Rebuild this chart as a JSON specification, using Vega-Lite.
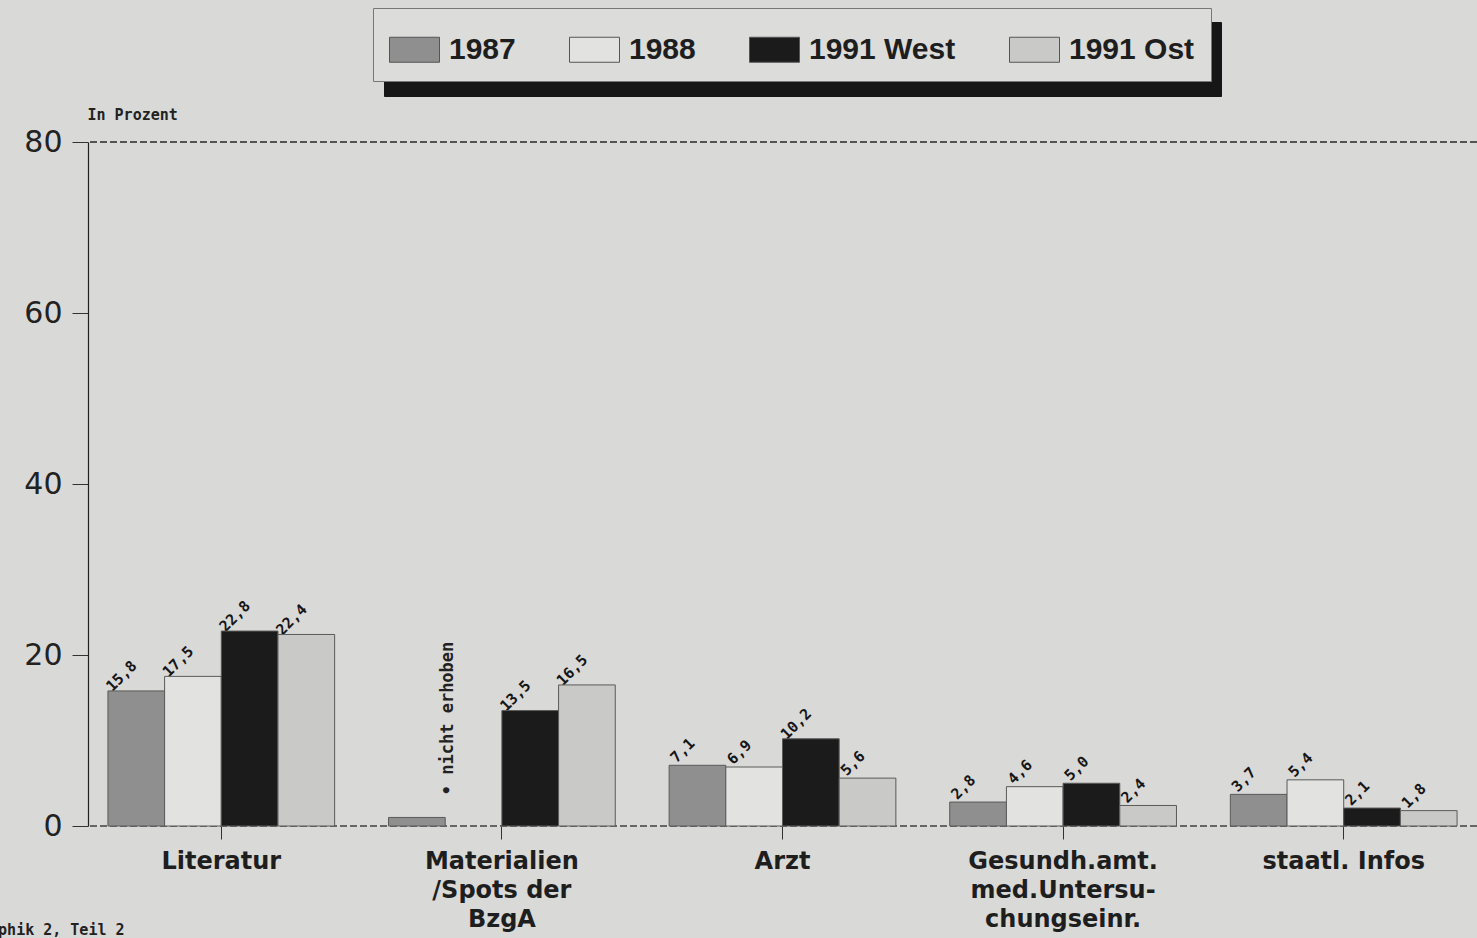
{
  "$schema": "https://vega.github.io/schema/vega-lite/v6.json",
  "width": 1389,
  "height": 684,
  "autosize": {"type": "none"},
  "padding": {"left": 88, "top": 142, "right": 0, "bottom": 112},
  "background": "#d9d9d7",
  "config": {
    "view": {"stroke": null},
    "font": "DejaVu Sans",
    "locale": {"number": {"decimal": ",", "thousands": ".", "grouping": [3], "currency": ["", " €"]}}
  },
  "title": {
    "text": "Graphik 2, Teil 2",
    "orient": "bottom",
    "anchor": "start",
    "frame": "group",
    "offset": -8,
    "dx": -117,
    "font": "DejaVu Sans Mono",
    "fontSize": 15,
    "fontWeight": "bold",
    "color": "#222"
  },
  "data": {
    "values": [
      {"category": "Literatur", "year": "1987", "value": 15.8},
      {"category": "Literatur", "year": "1988", "value": 17.5},
      {"category": "Literatur", "year": "1991 West", "value": 22.8},
      {"category": "Literatur", "year": "1991 Ost", "value": 22.4},
      {"category": "Materialien\n/Spots der\nBzgA", "year": "1987", "value": 1.0, "nolabel": true},
      {"category": "Materialien\n/Spots der\nBzgA", "year": "1991 West", "value": 13.5},
      {"category": "Materialien\n/Spots der\nBzgA", "year": "1991 Ost", "value": 16.5},
      {"category": "Arzt", "year": "1987", "value": 7.1},
      {"category": "Arzt", "year": "1988", "value": 6.9},
      {"category": "Arzt", "year": "1991 West", "value": 10.2},
      {"category": "Arzt", "year": "1991 Ost", "value": 5.6},
      {"category": "Gesundh.amt.\nmed.Untersu-\nchungseinr.", "year": "1987", "value": 2.8},
      {"category": "Gesundh.amt.\nmed.Untersu-\nchungseinr.", "year": "1988", "value": 4.6},
      {"category": "Gesundh.amt.\nmed.Untersu-\nchungseinr.", "year": "1991 West", "value": 5.0},
      {"category": "Gesundh.amt.\nmed.Untersu-\nchungseinr.", "year": "1991 Ost", "value": 2.4},
      {"category": "staatl. Infos", "year": "1987", "value": 3.7},
      {"category": "staatl. Infos", "year": "1988", "value": 5.4},
      {"category": "staatl. Infos", "year": "1991 West", "value": 2.1},
      {"category": "staatl. Infos", "year": "1991 Ost", "value": 1.8}
    ]
  },
  "layer": [
    {
      "mark": {"type": "rule", "color": "#555", "strokeWidth": 1, "strokeDash": [7, 3]},
      "encoding": {"y": {"datum": 80, "type": "quantitative"}}
    },
    {
      "mark": {"type": "rule", "color": "#666", "strokeWidth": 1, "strokeDash": [7, 3]},
      "encoding": {"y": {"datum": 0, "type": "quantitative"}}
    },
    {
      "transform": [{"filter": "!datum.nolabel"}],
      "mark": {
        "type": "text",
        "angle": 315,
        "align": "center",
        "baseline": "middle",
        "dy": -21,
        "font": "DejaVu Sans Mono",
        "fontSize": 15,
        "fontWeight": "bold"
      },
      "encoding": {
        "x": {
          "field": "category",
          "type": "nominal",
          "sort": ["Literatur", "Materialien\n/Spots der\nBzgA", "Arzt", "Gesundh.amt.\nmed.Untersu-\nchungseinr.", "staatl. Infos"],
          "scale": {"paddingInner": 0.192, "paddingOuter": 0.071},
          "axis": {
            "title": null,
            "domain": false,
            "ticks": true,
            "tickSize": 13,
            "tickColor": "#333",
            "labelAngle": 0,
            "labelFont": "DejaVu Sans",
            "labelFontSize": 24,
            "labelFontWeight": "bold",
            "labelColor": "#1e1e1e",
            "labelPadding": 10,
            "labelLimit": 0,
            "labelLineHeight": 29,
            "labelBaseline": "top",
            "labelExpr": "split(datum.label, '\\n')"
          }
        },
        "xOffset": {
          "field": "year",
          "type": "nominal",
          "sort": ["1987", "1988", "1991 West", "1991 Ost"],
          "scale": {"paddingInner": 0, "paddingOuter": 0}
        },
        "y": {
          "field": "value",
          "type": "quantitative",
          "scale": {"domain": [0, 80], "nice": false, "zero": true},
          "axis": {
            "values": [0, 20, 40, 60, 80],
            "grid": false,
            "domainColor": "#222",
            "domainWidth": 1.2,
            "tickColor": "#333",
            "tickSize": 16,
            "labelFont": "DejaVu Sans",
            "labelFontSize": 30,
            "labelColor": "#222",
            "labelPadding": 10,
            "title": "In Prozent",
            "titleAngle": 0,
            "titleAlign": "left",
            "titleBaseline": "middle",
            "titleX": -1,
            "titleY": -28,
            "titleFont": "DejaVu Sans Mono",
            "titleFontSize": 15,
            "titleFontWeight": "bold",
            "titleColor": "#222"
          }
        },
        "text": {"field": "value", "type": "quantitative", "format": ".1f"},
        "color": {
          "field": "year",
          "type": "nominal",
          "sort": ["1987", "1988", "1991 West", "1991 Ost"],
          "scale": {"range": ["#161616", "#161616", "#161616", "#161616"]},
          "legend": {
            "title": null,
            "orient": "none",
            "legendX": 296,
            "legendY": -120,
            "direction": "horizontal",
            "columns": 4,
            "symbolType": "M-1,-0.5H1V0.5H-1Z",
            "symbolSize": 2500,
            "symbolStrokeColor": "#161616",
            "symbolOpacity": 1,
            "labelFont": "Liberation Sans",
            "labelFontSize": 30,
            "labelFontWeight": "bold",
            "labelColor": "#161616",
            "labelExpr": "' '",
            "labelOffset": 9,
            "columnPadding": 185,
            "padding": 16,
            "strokeColor": "#161616",
            "fillColor": "#161616"
          }
        }
      }
    },
    {
      "mark": {"type": "bar", "stroke": "#5a5a5a", "strokeWidth": 1, "fillOpacity": 1},
      "encoding": {
        "x": {
          "field": "category",
          "type": "nominal",
          "sort": ["Literatur", "Materialien\n/Spots der\nBzgA", "Arzt", "Gesundh.amt.\nmed.Untersu-\nchungseinr.", "staatl. Infos"],
          "scale": {"paddingInner": 0.192, "paddingOuter": 0.071},
          "axis": {
            "title": null,
            "domain": false,
            "ticks": true,
            "tickSize": 13,
            "tickColor": "#333",
            "labelAngle": 0,
            "labelFont": "DejaVu Sans",
            "labelFontSize": 24,
            "labelFontWeight": "bold",
            "labelColor": "#1e1e1e",
            "labelPadding": 10,
            "labelLimit": 0,
            "labelLineHeight": 29,
            "labelBaseline": "top",
            "labelExpr": "split(datum.label, '\\n')"
          }
        },
        "xOffset": {
          "field": "year",
          "type": "nominal",
          "sort": ["1987", "1988", "1991 West", "1991 Ost"],
          "scale": {"paddingInner": 0, "paddingOuter": 0}
        },
        "y": {
          "field": "value",
          "type": "quantitative",
          "scale": {"domain": [0, 80], "nice": false, "zero": true},
          "axis": {
            "values": [0, 20, 40, 60, 80],
            "grid": false,
            "domainColor": "#222",
            "domainWidth": 1.2,
            "tickColor": "#333",
            "tickSize": 16,
            "labelFont": "DejaVu Sans",
            "labelFontSize": 30,
            "labelColor": "#222",
            "labelPadding": 10,
            "title": "In Prozent",
            "titleAngle": 0,
            "titleAlign": "left",
            "titleBaseline": "middle",
            "titleX": -1,
            "titleY": -28,
            "titleFont": "DejaVu Sans Mono",
            "titleFontSize": 15,
            "titleFontWeight": "bold",
            "titleColor": "#222"
          }
        },
        "fill": {
          "field": "year",
          "type": "nominal",
          "scale": {
            "domain": ["1987", "1988", "1991 West", "1991 Ost"],
            "range": ["#8f8f8f", "#e2e2e0", "#1b1b1b", "#c9c9c7"]
          },
          "legend": {
            "title": null,
            "orient": "none",
            "legendX": 285,
            "legendY": -134,
            "direction": "horizontal",
            "columns": 4,
            "symbolType": "M-1,-0.5H1V0.5H-1Z",
            "symbolSize": 2500,
            "symbolStrokeColor": "#555",
            "symbolStrokeWidth": 1,
            "symbolOpacity": 1,
            "labelFont": "Liberation Sans",
            "labelFontSize": 30,
            "labelFontWeight": "bold",
            "labelColor": "#1e1e1e",
            "labelOffset": 9,
            "columnPadding": 51,
            "padding": 16,
            "strokeColor": "#777",
            "fillColor": "#dcdcda"
          }
        }
      }
    },
    {
      "data": {"values": [{"category": "Materialien\n/Spots der\nBzgA", "year": "1988", "note": "• nicht erhoben"}]},
      "mark": {
        "type": "text",
        "angle": 270,
        "align": "left",
        "baseline": "middle",
        "dy": -26,
        "font": "DejaVu Sans Mono",
        "fontSize": 17,
        "fontWeight": "bold",
        "color": "#222"
      },
      "encoding": {
        "x": {"field": "category", "type": "nominal", "sort": ["Literatur", "Materialien\n/Spots der\nBzgA", "Arzt", "Gesundh.amt.\nmed.Untersu-\nchungseinr.", "staatl. Infos"]},
        "xOffset": {"field": "year", "type": "nominal", "sort": ["1987", "1988", "1991 West", "1991 Ost"]},
        "y": {"datum": 3.6, "type": "quantitative"},
        "text": {"field": "note"}
      }
    }
  ]
}
